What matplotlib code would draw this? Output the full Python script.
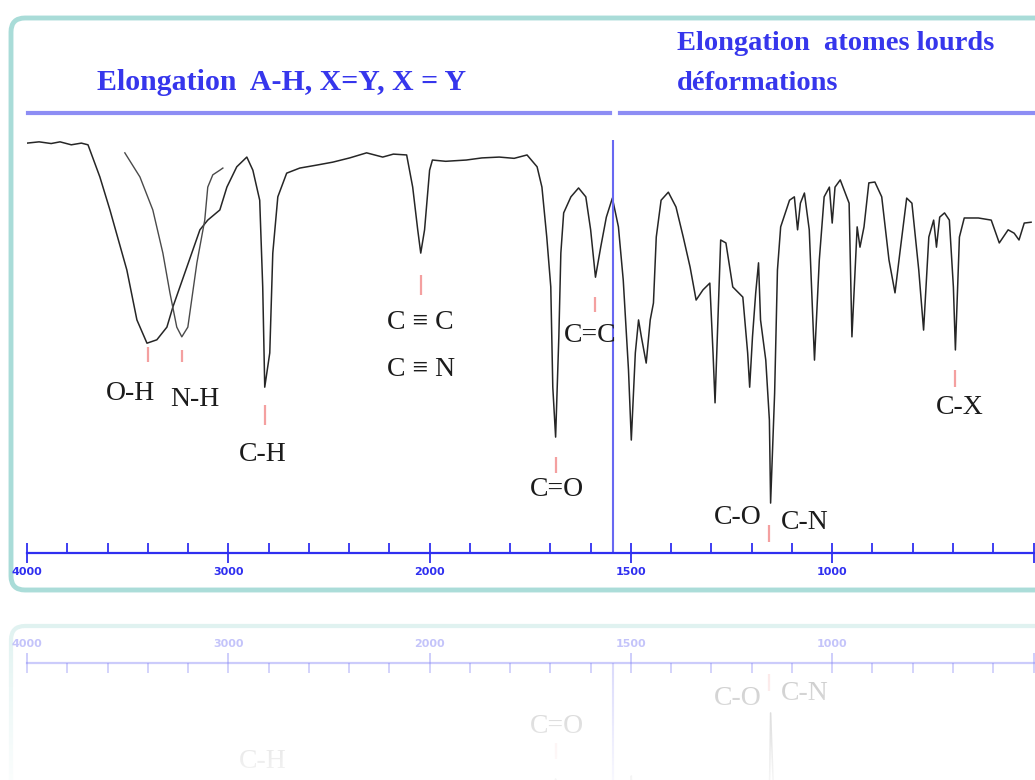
import matplotlib.pyplot as plt
import numpy as np
from matplotlib.patches import FancyBboxPatch
from matplotlib.lines import Line2D
from matplotlib.colors import to_rgba

# IR spectrum: wavenumber (cm-1) and transmittance (%)
main_wn = [4000, 3940, 3880, 3836, 3780, 3730, 3697, 3638, 3588, 3504,
           3454, 3404, 3355, 3305, 3275, 3206, 3141, 3102, 3042, 3007,
           2958, 2908, 2878, 2844, 2829, 2819, 2794, 2779, 2754, 2710,
           2645, 2561, 2481, 2397, 2313, 2233, 2180, 2114, 2084, 2059,
           2044, 2025, 2000, 1993, 1960, 1909, 1870, 1827, 1790, 1758,
           1733, 1721, 1709, 1699, 1694, 1687, 1679, 1674, 1667, 1649,
           1630, 1612, 1600, 1588, 1575, 1561, 1546, 1531, 1519, 1506,
           1499, 1489, 1481, 1474, 1462, 1452, 1444, 1437, 1425, 1407,
           1388, 1370, 1353, 1338, 1321, 1304, 1296, 1291, 1284, 1277,
           1264, 1247, 1222, 1210, 1205, 1198, 1190, 1183, 1178, 1165,
           1156, 1153, 1143, 1136, 1128, 1106, 1094, 1086, 1079, 1069,
           1057, 1044, 1032, 1020, 1007, 1000, 993, 980, 958, 951,
           938, 931, 921, 909, 894, 877, 859, 844, 832, 815,
           802, 785, 773, 760, 748, 741, 733, 721, 709, 699,
           694, 684, 672, 637, 605, 585, 563, 548, 536, 523,
           506]
main_t = [96.9, 97.2, 96.8, 97.2, 96.5, 96.9, 96.5, 88.9, 81.1, 66.9,
          55.1, 49.6, 50.4, 53.4, 58.2, 67.6, 76.4, 78.7, 81.1, 86.5,
          91.3, 93.6, 90.5, 83.4, 62.9, 39.2, 47.3, 70.9, 84.2, 89.8,
          91.0, 91.7, 92.4, 93.4, 94.6, 93.6, 94.3, 94.1, 86.5, 76.4,
          70.9, 76.4, 90.5, 92.9, 92.6, 92.9, 93.4, 93.6, 93.3, 94.1,
          91.3, 86.5, 74.7, 62.9, 39.2, 27.4, 51.1, 70.9, 80.4, 84.2,
          86.3, 84.2, 76.4, 65.2, 72.3, 79.4, 83.9, 77.1, 64.5, 43.3,
          26.7, 47.3, 55.1, 51.1, 44.9, 55.1, 59.1, 74.7, 83.4, 85.3,
          81.8, 74.7, 67.6, 59.8, 62.2, 63.8, 47.3, 35.5, 55.1, 74.0,
          73.3, 62.9, 60.5, 47.3, 39.2, 51.1, 61.5, 68.6, 55.1, 45.6,
          31.4, 11.8, 37.8, 66.9, 77.1, 83.4, 84.2, 76.4, 82.7, 85.1,
          76.4, 45.6, 69.3, 84.2, 86.5, 78.0, 86.5, 88.2, 82.7, 51.1,
          77.1, 72.3, 77.1, 87.5, 87.7, 84.2, 69.3, 61.5, 70.9, 83.9,
          82.7, 66.9, 52.7, 74.7, 78.7, 72.3, 79.4, 80.4, 78.7, 62.9,
          48.0, 74.7, 79.2, 79.2, 78.7, 73.3, 76.4, 75.6, 74.0, 78.0,
          78.2]

# second (amine) trace in the 3500-3000 region
nh_wn = [3514, 3439, 3375, 3325, 3290, 3256, 3231, 3201, 3156, 3117, 3102, 3077, 3042, 3027]
nh_t = [94.6, 88.9, 81.1, 70.9, 61.5, 53.4, 51.1, 53.4, 68.6, 78.7, 86.5, 89.4, 90.5, 91.0]

band_labels = ["O-H", "N-H", "C-H", "C ≡ C", "C ≡ N", "C=C", "C=O", "C-O", "C-N", "C-X"]
label_wn = [3484, 3166, 2829, 2044, 2044, 1600, 1684, 1235, 1067, 682]
label_t = [37.8, 36.2, 23.2, 54.6, 43.3, 51.5, 14.9, 8.5, 7.1, 34.3]

mark_wn = [3400, 3231, 2819, 2044, 1588, 1687, 1158, 694]
mark_top = [48.7, 48.0, 35.0, 65.7, 60.5, 22.7, 6.6, 43.3]
mark_bot = [45.2, 45.2, 30.3, 61.0, 57.0, 18.9, 2.6, 39.2]

major_ticks = [4000, 3000, 2000, 1500, 1000, 500]
major_labels = ["4000", "3000", "2000", "1500", "1000", ""]
minor_ticks = list(range(3800, 2000, -200)) + list(range(1900, 500, -100))
separator_wn = 1545

header_left = "Elongation  A-H, X=Y, X = Y"
header_right = ["Elongation  atomes lourds", "déformations"]

BLUE = "#2f2ff0"
HEAD_BLUE = "#3636ec"
TEAL = "#a9dcd8"


def fwd(w):
    w = np.asarray(w, dtype=float)
    return np.where(w >= 2000, w / 1000.0, 2 + (w - 2000) / 500.0)


def inv(u):
    u = np.asarray(u, dtype=float)
    return np.where(u >= 2, u * 1000.0, 2000 + (u - 2) * 500.0)


def draw_spectrum(ax, alpha=1.0, flipped=False):
    ax.set_xscale('function', functions=(fwd, inv))
    ax.set_xlim(4000, 500)
    ax.set_ylim((100, 0) if flipped else (0, 100))
    ax.patch.set_alpha(0)
    ax.plot(main_wn, main_t, color="#262626", lw=1.1, alpha=alpha)
    ax.plot(nh_wn, nh_t, color="#4a4a4a", lw=1.0, alpha=alpha)
    ax.vlines(mark_wn, mark_bot, mark_top, color="#f4a0a0", lw=1.6, alpha=alpha)
    ax.vlines([separator_wn], 0, 97.6, color="#6868f2", lw=1.5, alpha=alpha)
    for lab, w, t in zip(band_labels, label_wn, label_t):
        # in the reflection only the labels close to the axis stay inside the picture
        if flipped and t > 25:
            continue
        ax.text(w, t, lab, ha='center', va='center', fontsize=20,
                family=['Liberation Serif', 'DejaVu Serif'], color="#1c1c1c", alpha=alpha)

    keep = 'top' if flipped else 'bottom'
    for s in ['left', 'right', 'top', 'bottom']:
        ax.spines[s].set_visible(s == keep)
    ax.spines[keep].set_color(BLUE)
    ax.spines[keep].set_linewidth(1.6)
    ax.spines[keep].set_alpha(alpha)
    if flipped:
        ax.xaxis.set_ticks_position('top')
    ax.set_xticks(major_ticks)
    ax.set_xticklabels(major_labels)
    ax.set_xticks(minor_ticks, minor=True)
    ax.set_yticks([])
    c = to_rgba(BLUE, alpha)
    ax.tick_params(which='major', direction='inout', length=14, width=1.3, color=c,
                   labelsize=8, labelcolor=c, pad=3)
    ax.tick_params(which='minor', direction='in', length=7, width=1.3, color=c)
    for t in ax.get_xticklabels():
        t.set_fontweight('bold')


W, H = 1035, 780
fig = plt.figure(figsize=(W / 100, H / 100), dpi=100)
fig.patch.set_facecolor('white')

# rounded frame of the slide
frame = FancyBboxPatch((0.11, (H - 590) / 100), 10.5, (590 - 18) / 100,
                       boxstyle="round,pad=0,rounding_size=0.14",
                       transform=fig.dpi_scale_trans, fc='white', ec=TEAL, lw=3.5, zorder=0)
fig.add_artist(frame)

# main spectrum
ax = fig.add_axes([27 / W, (H - 553) / H, (1033.5 - 27) / W, 423 / H])
draw_spectrum(ax)

# headers
fig.text(282 / W, 1 - 82 / H, header_left, ha='center', va='center', fontsize=21.5,
         fontweight='bold', family='Liberation Serif', color=HEAD_BLUE)
fig.text(677 / W, 1 - 43 / H, header_right[0], ha='left', va='center', fontsize=20.5,
         fontweight='bold', family='Liberation Serif', color=HEAD_BLUE)
fig.text(677 / W, 1 - 83 / H, header_right[1], ha='left', va='center', fontsize=20.5,
         fontweight='bold', family='Liberation Serif', color=HEAD_BLUE)
for x0, x1 in [(28, 610), (620, 1035)]:
    fig.add_artist(Line2D([x0 / W, x1 / W], [1 - 113 / H, 1 - 113 / H],
                          transform=fig.transFigure, color="#8d8df4", lw=3))

# mirrored reflection below the slide
rframe = FancyBboxPatch((0.11, -4.0), 10.5, (H - 626) / 100 + 4.0,
                        boxstyle="round,pad=0,rounding_size=0.14",
                        transform=fig.dpi_scale_trans, fc='none', ec=TEAL, lw=3, alpha=0.45, zorder=0)
fig.add_artist(rframe)
rax = fig.add_axes([27 / W, (H - 663 - 423) / H, (1033.5 - 27) / W, 423 / H])
draw_spectrum(rax, alpha=0.4, flipped=True)

fade = fig.add_axes([0, 0, 1, 195 / H], zorder=10)
rgba = np.ones((256, 1, 4))
rgba[:, 0, 3] = np.linspace(0.0, 1.0, 256) ** 0.9 * 0.9
fade.imshow(rgba, aspect='auto', extent=[0, 1, 0, 1], origin='upper')
fade.axis('off')

fig.savefig("out.png", dpi=100)
